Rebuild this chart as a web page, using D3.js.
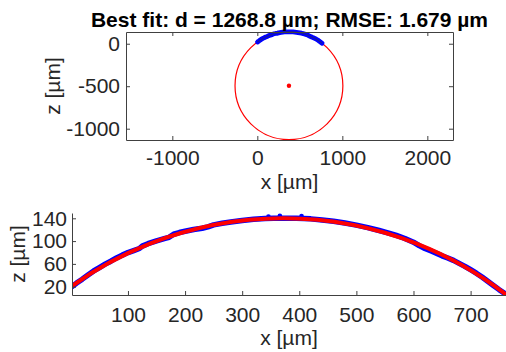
<!DOCTYPE html>
<html>
<head>
<meta charset="utf-8">
<script src="https://cdn.jsdelivr.net/npm/d3@7"></script>
<style>
  body { margin: 0; background: #fff; }
  text { font-family: "Liberation Sans", Arial, sans-serif; }
</style>
</head>
<body>
<div id="chart"></div>
<script>
// measured profile (x, z in µm)
var profX = [2, 10, 20, 30, 40, 50, 60, 70, 80, 90, 100, 110, 120, 125, 135, 150, 165, 172, 180, 190,
             200, 215, 230, 240, 250, 265, 280, 300, 320, 340, 355, 380, 395, 420, 440, 460, 480, 500,
             520, 540, 555, 570, 585, 600, 610, 620, 630, 640, 650, 660, 670, 680, 690, 700, 710, 720,
             730, 740, 750, 762];
var profZ = [20, 26.3, 33.2, 40.6, 47.6, 53.6, 59.5, 64.7, 70.4, 75.4, 79.8, 83.4, 87, 91.2, 95.5, 100.5, 104.8, 106.6, 112, 115,
             117.3, 120.4, 122.5, 124.9, 128.4, 131.3, 133.6, 136.3, 138.3, 139.6, 140, 140.2, 139.9, 139, 137, 134.9, 131.8, 128.1,
             123.7, 118.6, 114.5, 109.9, 104.6, 98.1, 92.1, 87.1, 83, 78.7, 74.1, 70.4, 66.2, 61, 55.7, 49.8, 43.7, 36.9,
             29.4, 22.2, 14.8, 6.5];
// a few stray points above the profile
var strayX = [346, 366, 404];
var strayZ = [143, 144.5, 144];

// circle fit
var fitCx = 372, fitCz = -494.4, fitD = 1268.8, rmse = 1.679;

// axis limits and ticks
var topXLim = [-1545, 2302], topZLim = [-1133, 138];
var topXTicks = [-1000, 0, 1000, 2000], topZTicks = [-1000, -500, 0];
var botXLim = [2, 762], botZLim = [5.4, 149.3];
var botXTicks = [100, 200, 300, 400, 500, 600, 700], botZTicks = [20, 60, 100, 140];

var svg = d3.select("#chart").append("svg")
            .attr("width", 506)
            .attr("height", 352);

var axisColor = "#404040", textColor = "#262626";
var fmt = function(d) { return String(d); };

function styleAxis(g, size) {
  g.selectAll("path,line").attr("stroke", axisColor).attr("stroke-width", 1);
  g.selectAll("text").attr("fill", textColor)
   .style("font-size", size + "px")
   .style("font-family", "'Liberation Sans', Arial, sans-serif");
}

// ---------- top panel (whole circle, equal axes) ----------
var t = {left: 126, right: 453, top: 32, bottom: 140};
var x1 = d3.scaleLinear().domain(topXLim).range([t.left, t.right]);
var z1 = d3.scaleLinear().domain(topZLim).range([t.bottom, t.top]);

svg.append("clipPath").attr("id", "clipTop")
   .append("rect").attr("x", t.left).attr("y", t.top - 3)
   .attr("width", t.right - t.left).attr("height", t.bottom - t.top + 3);

var gTop = svg.append("g").attr("clip-path", "url(#clipTop)");

gTop.append("circle")
    .attr("cx", x1(fitCx))
    .attr("cy", z1(fitCz))
    .attr("r", x1(fitCx + fitD / 2) - x1(fitCx))
    .attr("fill", "none")
    .attr("stroke", "#ff0000")
    .attr("stroke-width", 1.2);

var line1 = d3.line().x(function(d, i) { return x1(profX[i]); })
                     .y(function(d, i) { return z1(profZ[i]); });
svg.append("path").datum(profX)
   .attr("d", line1)
   .attr("fill", "none")
   .attr("stroke", "#0000ff")
   .attr("stroke-width", 4.8)
   .attr("stroke-linecap", "round")
   .attr("stroke-linejoin", "round");
svg.append("path").datum(profX)
   .attr("d", line1)
   .attr("fill", "none")
   .attr("stroke", "#1a1a9a")
   .attr("stroke-width", 1.2);

svg.append("circle")
   .attr("cx", x1(fitCx))
   .attr("cy", z1(fitCz))
   .attr("r", 2.2)
   .attr("fill", "#ff0000");

var ax;
ax = svg.append("g").attr("transform", "translate(0," + t.bottom + ")")
   .call(d3.axisBottom(x1).tickValues(topXTicks).tickFormat(fmt).tickSizeInner(-4).tickSizeOuter(0).tickPadding(10));
styleAxis(ax, 21);
ax = svg.append("g").attr("transform", "translate(0," + t.top + ")")
   .call(d3.axisTop(x1).tickValues(topXTicks).tickFormat("").tickSizeInner(-4).tickSizeOuter(0));
styleAxis(ax, 21);
ax = svg.append("g").attr("transform", "translate(" + t.left + ",0)")
   .call(d3.axisLeft(z1).tickValues(topZTicks).tickFormat(fmt).tickSizeInner(-4).tickSizeOuter(0).tickPadding(6));
styleAxis(ax, 21);
ax = svg.append("g").attr("transform", "translate(" + t.right + ",0)")
   .call(d3.axisRight(z1).tickValues(topZTicks).tickFormat("").tickSizeInner(-4).tickSizeOuter(0));
styleAxis(ax, 21);

svg.append("text")
   .attr("x", (t.left + t.right) / 2)
   .attr("y", 27)
   .attr("text-anchor", "middle")
   .style("font-size", "21px")
   .style("font-weight", "bold")
   .attr("fill", "#000")
   .text("Best fit: d = " + fitD.toFixed(1) + " µm; RMSE: " + rmse.toFixed(3) + " µm");

svg.append("text")
   .attr("x", (t.left + t.right) / 2)
   .attr("y", 189)
   .attr("text-anchor", "middle")
   .style("font-size", "21px")
   .attr("fill", textColor)
   .text("x [µm]");

svg.append("text")
   .attr("transform", "translate(60," + (t.top + t.bottom) / 2 + ") rotate(-90)")
   .attr("text-anchor", "middle")
   .style("font-size", "21px")
   .attr("fill", textColor)
   .text("z  [µm]");

// ---------- bottom panel (profile close-up) ----------
var b = {left: 72, right: 506, top: 213, bottom: 295};
var x2 = d3.scaleLinear().domain(botXLim).range([b.left, b.right]);
var z2 = d3.scaleLinear().domain(botZLim).range([b.bottom, b.top]);

svg.append("clipPath").attr("id", "clipBot")
   .append("rect").attr("x", b.left).attr("y", b.top - 6)
   .attr("width", b.right - b.left).attr("height", b.bottom - b.top + 6);

var gBot = svg.append("g").attr("clip-path", "url(#clipBot)");

var line2 = d3.line().x(function(d, i) { return x2(profX[i]); })
                     .y(function(d, i) { return z2(profZ[i]); });
gBot.append("path").datum(profX)
    .attr("d", line2)
    .attr("fill", "none")
    .attr("stroke", "#0000ff")
    .attr("stroke-width", 5.5)
    .attr("stroke-linecap", "round")
    .attr("stroke-linejoin", "round");

gBot.selectAll("circle.stray")
    .data(strayX)
    .enter()
    .append("circle")
    .attr("class", "stray")
    .attr("cx", function(d) { return x2(d); })
    .attr("cy", function(d, i) { return z2(strayZ[i]); })
    .attr("r", 2.3)
    .attr("fill", "#0000ff");

// fitted circle seen through the non-equal scales is an ellipse
gBot.append("ellipse")
    .attr("cx", x2(fitCx))
    .attr("cy", z2(fitCz))
    .attr("rx", x2(fitCx + fitD / 2) - x2(fitCx))
    .attr("ry", z2(fitCz) - z2(fitCz + fitD / 2))
    .attr("fill", "none")
    .attr("stroke", "#ff0000")
    .attr("stroke-width", 4);

ax = svg.append("g").attr("transform", "translate(0," + b.bottom + ")")
   .call(d3.axisBottom(x2).tickValues(botXTicks).tickFormat(fmt).tickSizeInner(-4).tickSizeOuter(0).tickPadding(12));
styleAxis(ax, 21);
ax = svg.append("g").attr("transform", "translate(" + b.left + ",0)")
   .call(d3.axisLeft(z2).tickValues(botZTicks).tickFormat(fmt).tickSizeInner(-4).tickSizeOuter(0).tickPadding(5));
styleAxis(ax, 21);

svg.append("text")
   .attr("x", (b.left + b.right) / 2)
   .attr("y", 345)
   .attr("text-anchor", "middle")
   .style("font-size", "21px")
   .attr("fill", textColor)
   .text("x [µm]");

svg.append("text")
   .attr("transform", "translate(25,254) rotate(-90)")
   .attr("text-anchor", "middle")
   .style("font-size", "21px")
   .attr("fill", textColor)
   .text("z  [µm]");
</script>
</body>
</html>
